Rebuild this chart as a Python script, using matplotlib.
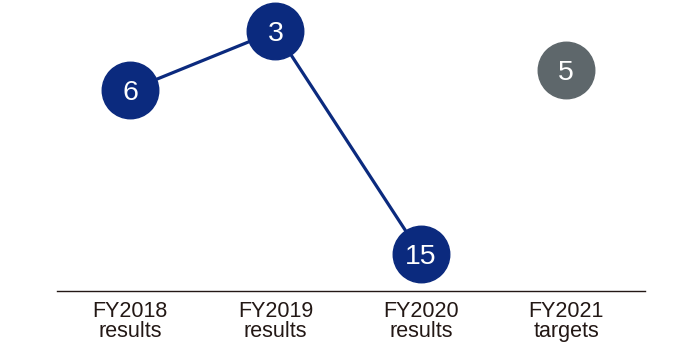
import numpy as np
import matplotlib
matplotlib.use("Agg")
import matplotlib.pyplot as plt

plt.rcParams['font.family'] = ['Liberation Sans', 'DejaVu Sans']

categories = ["FY2018\nresults", "FY2019\nresults", "FY2020\nresults", "FY2021\ntargets"]
result_values = [6, 3, 15]
target_values = [5]

navy = "#0b2a7e"
gray = "#5e676b"
text_dark = "#231815"

# compressed scale beyond 6 (as in the reference layout)
K = 0.927
def fwd(v):
    v = np.asarray(v, dtype=float)
    return np.where(v <= 6, v, 6 + (v - 6) * K)
def inv(u):
    u = np.asarray(u, dtype=float)
    return np.where(u <= 6, u, 6 + (u - 6) / K)

fig = plt.figure(figsize=(6.9, 3.52), dpi=100)
ax = fig.add_axes([56.7 / 690, (352 - 291.3) / 352, 588 / 690, 291.3 / 352])
ax.set_yscale('function', functions=(fwd, inv))

xr = np.arange(len(result_values))
ax.plot(xr, result_values, color=navy, lw=2.3, marker='o', ms=40.7,
        mfc=navy, mec=navy, clip_on=False, zorder=3)
for x, v in zip(xr, result_values):
    ax.text(x, v, str(v), color='white', fontsize=20.5, ha='center', va='center_baseline', zorder=4)

xt = np.arange(len(result_values), len(result_values) + len(target_values))
ax.plot(xt, target_values, linestyle='none', marker='o', ms=40.7,
        mfc=gray, mec=gray, clip_on=False, zorder=3)
for x, v in zip(xt, target_values):
    ax.text(x, v, str(v), color='white', fontsize=20.5, ha='center', va='center_baseline', zorder=4)

ax.set_xlim(-0.505, 3.54)
ax.set_ylim(17.04, 1.424)

for s in ['top', 'left', 'right']:
    ax.spines[s].set_visible(False)
ax.spines['bottom'].set_color(text_dark)
ax.spines['bottom'].set_linewidth(1.0)
ax.set_yticks([])
ax.set_xticks(range(len(categories)))
ax.set_xticklabels(categories, fontsize=15.5, color=text_dark)
ax.tick_params(axis='x', length=0, pad=7)
for lbl in ax.get_xticklabels():
    lbl.set_linespacing(0.92)
ax.yaxis.set_minor_locator(matplotlib.ticker.NullLocator())

fig.savefig("out.png", dpi=100)
